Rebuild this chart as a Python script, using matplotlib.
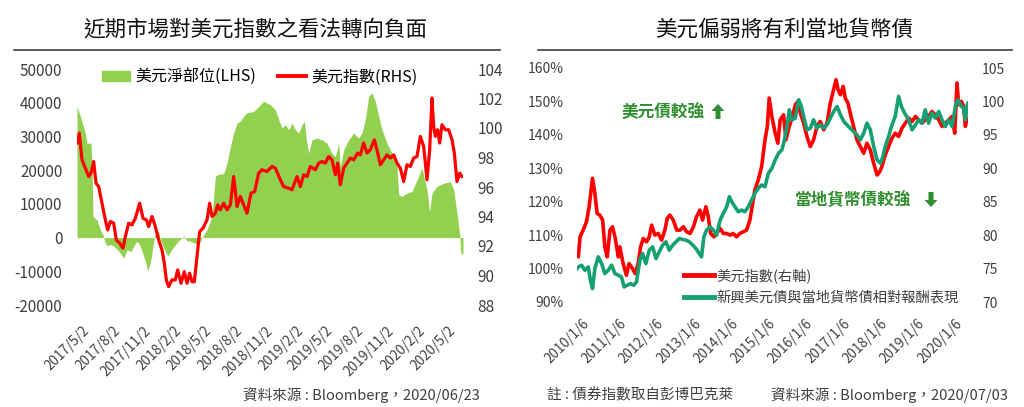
import matplotlib
matplotlib.use('Agg')
import matplotlib.pyplot as plt
from matplotlib.lines import Line2D
from matplotlib.patches import Patch, FancyArrow
from matplotlib.transforms import ScaledTranslation
from matplotlib.ticker import FuncFormatter, MultipleLocator
import pandas as pd

plt.rcParams['font.family'] = ['Noto Sans CJK TC', 'DejaVu Sans']
plt.rcParams['axes.unicode_minus'] = False

# ---------------- Left chart data ----------------
left_title = "近期市場對美元指數之看法轉向負面"
left_source = "資料來源 : Bloomberg，2020/06/23"
pos_label = "美元淨部位(LHS)"
dxy_left_label = "美元指數(RHS)"

pos_dates = ["2017-04-22","2017-05-02","2017-05-17","2017-05-22","2017-06-03","2017-06-06","2017-06-09","2017-06-21",
             "2017-07-01","2017-07-09","2017-07-14","2017-07-21","2017-07-31","2017-08-10","2017-08-25","2017-09-09",
             "2017-09-19","2017-10-01","2017-10-09","2017-10-17","2017-10-24","2017-11-03","2017-11-13","2017-11-20",
             "2017-11-28","2017-12-08","2017-12-13","2017-12-23","2017-12-28","2018-01-07","2018-01-19","2018-02-01",
             "2018-02-16","2018-03-03","2018-03-08","2018-03-18","2018-03-28","2018-04-07","2018-04-17","2018-04-25",
             "2018-05-02","2018-05-17","2018-06-01","2018-06-11","2018-06-16","2018-07-06","2018-07-16","2018-07-26",
             "2018-08-05","2018-08-15","2018-08-25","2018-09-04","2018-09-14","2018-10-04","2018-10-24","2018-11-03",
             "2018-11-23","2018-12-08","2018-12-18","2018-12-28","2019-01-07","2019-01-17","2019-01-27","2019-02-06",
             "2019-02-16","2019-02-26","2019-03-05","2019-03-11","2019-03-18","2019-03-28","2019-04-12","2019-04-27",
             "2019-05-12","2019-05-27","2019-06-06","2019-06-16","2019-06-21","2019-07-01","2019-07-16","2019-07-31",
             "2019-08-15","2019-08-25","2019-09-04","2019-09-14","2019-09-24","2019-10-04","2019-10-14","2019-10-24",
             "2019-11-08","2019-11-23","2019-12-08","2019-12-13","2019-12-23","2020-01-07","2020-01-22","2020-02-06",
             "2020-02-21","2020-03-07","2020-03-15","2020-03-22","2020-04-06","2020-04-26","2020-05-16","2020-05-26",
             "2020-06-05","2020-06-13","2020-06-17","2020-06-23"]
pos_values = [38900,36000,31000,28000,28000,21100,6200,5250,2300,800,-1200,-2500,-2000,-2500,-4000,-6100,
              -3600,-4100,-2600,-1200,-1500,-4000,-7000,-10000,-7600,-1200,1800,1800,-500,-3000,-5600,-3500,
              -1500,0,500,-1000,-1000,-1500,-2000,-1500,0,2300,6200,18100,18600,19000,22100,27000,
              31000,34000,34500,36000,37000,37400,39400,40400,39400,37900,35000,32500,33500,32000,34000,32000,
              31000,33500,34500,29000,25000,29000,29500,29000,28000,25000,24000,28000,21000,26000,29000,31000,
              29500,31000,35000,41900,42900,40400,36000,32000,28000,25000,21000,12700,12200,13200,13700,17100,
              20600,14200,7700,13200,15200,16100,16600,14200,7200,800,-5100,-4600]

dxy17_dates = ["2017-04-22","2017-04-29","2017-05-07","2017-05-17","2017-05-27","2017-06-03","2017-06-11","2017-06-18",
               "2017-06-26","2017-07-06","2017-07-16","2017-07-23","2017-07-31","2017-08-10","2017-08-18","2017-08-28",
               "2017-09-07","2017-09-14","2017-09-24","2017-10-04","2017-10-14","2017-10-27","2017-11-06","2017-11-16",
               "2017-11-23","2017-12-03","2017-12-13","2017-12-23","2018-01-02","2018-01-09","2018-01-15","2018-01-22",
               "2018-02-01","2018-02-11","2018-02-18","2018-02-28","2018-03-10","2018-03-18","2018-03-26","2018-04-02",
               "2018-04-09","2018-04-17","2018-04-25","2018-05-05","2018-05-17","2018-05-25","2018-06-01","2018-06-11",
               "2018-06-18","2018-06-26","2018-07-06","2018-07-16","2018-07-26","2018-08-05","2018-08-15","2018-08-25",
               "2018-09-04","2018-09-14","2018-09-26","2018-10-07","2018-10-19","2018-10-29","2018-11-13","2018-11-28",
               "2018-12-08","2018-12-23","2019-01-02","2019-01-17","2019-01-27","2019-02-11","2019-02-21","2019-03-03",
               "2019-03-13","2019-03-23","2019-04-07","2019-04-17","2019-04-27","2019-05-07","2019-05-17","2019-05-27",
               "2019-06-06","2019-06-13","2019-06-21","2019-07-01","2019-07-11","2019-07-21","2019-07-31","2019-08-12",
               "2019-08-20","2019-08-30","2019-09-09","2019-09-19","2019-10-01","2019-10-09","2019-10-19","2019-10-29",
               "2019-11-08","2019-11-18","2019-11-28","2019-12-08","2019-12-18","2019-12-28","2020-01-07","2020-01-17",
               "2020-01-27","2020-02-06","2020-02-16","2020-02-26","2020-03-07","2020-03-15","2020-03-22","2020-03-27",
               "2020-04-01","2020-04-08","2020-04-14","2020-04-21","2020-05-01","2020-05-11","2020-05-21","2020-05-28",
               "2020-06-05","2020-06-13","2020-06-20"]
dxy17_values = [98.98,99.65,97.84,97.28,96.71,96.94,97.73,96.26,96.03,94.90,93.77,93.09,93.66,93.55,92.41,92.19,
                91.85,92.64,93.55,93.43,93.88,94.90,93.88,93.77,93.32,94.00,93.32,92.41,91.73,90.83,89.70,89.25,
                89.70,89.70,90.38,89.47,90.26,89.47,90.15,89.58,89.58,91.28,92.98,93.21,93.77,94.90,94.00,94.22,
                94.79,94.45,94.90,94.45,94.79,96.71,94.68,95.36,94.79,94.22,95.58,95.69,96.94,97.17,97.05,97.39,
                97.28,96.49,96.03,95.92,95.81,96.71,96.03,96.83,96.71,97.39,97.17,97.62,97.73,97.62,98.07,97.84,
                96.83,97.62,96.15,97.28,97.62,97.96,97.84,98.30,98.18,98.98,98.30,98.52,99.20,98.52,97.51,97.84,
                98.18,97.96,98.18,97.62,97.28,96.37,97.51,97.39,97.96,98.07,99.43,98.75,96.49,98.52,102.03,100.11,
                99.43,99.88,98.98,100.22,99.88,99.88,99.20,98.30,96.37,96.94,96.71]

left_tick_labels = ["2017/5/2","2017/8/2","2017/11/2","2018/2/2","2018/5/2","2018/8/2","2018/11/2",
                    "2019/2/2","2019/5/2","2019/8/2","2019/11/2","2020/2/2","2020/5/2"]

# ---------------- Right chart data ----------------
right_title = "美元偏弱將有利當地貨幣債"
right_note = "註 : 債券指數取自彭博巴克萊"
right_source = "資料來源 : Bloomberg，2020/07/03"
dxy_right_label = "美元指數(右軸)"
bond_label = "新興美元債與當地貨幣債相對報酬表現"
note_up = "美元債較強"
note_down = "當地貨幣債較強"

dxy10_dates = ["2010-01-06","2010-01-19","2010-02-05","2010-03-07","2010-04-09","2010-05-05","2010-06-07","2010-06-30",
               "2010-07-22","2010-08-18","2010-09-14","2010-10-06","2010-10-29","2010-11-25","2010-12-20","2011-01-13",
               "2011-02-15","2011-03-01","2011-04-03","2011-05-05","2011-05-31","2011-07-04","2011-07-30","2011-08-28",
               "2011-09-21","2011-10-17","2011-11-19","2011-12-15","2012-01-07","2012-02-09","2012-03-12","2012-04-14",
               "2012-05-16","2012-06-08","2012-07-04","2012-08-06","2012-09-09","2012-10-11","2012-11-13","2012-12-15",
               "2013-01-18","2013-02-20","2013-03-22","2013-04-24","2013-05-20","2013-06-22","2013-07-15","2013-08-07",
               "2013-09-09","2013-10-05","2013-11-08","2013-12-10","2014-01-12","2014-02-14","2014-03-16","2014-04-18",
               "2014-05-21","2014-06-23","2014-07-25","2014-08-27","2014-09-23","2014-10-15","2014-11-17","2014-12-20",
               "2015-01-22","2015-02-14","2015-03-04","2015-03-30","2015-05-02","2015-05-28","2015-06-20","2015-07-23",
               "2015-08-15","2015-09-17","2015-10-13","2015-11-15","2015-12-11","2016-01-03","2016-02-05","2016-03-08",
               "2016-04-10","2016-05-12","2016-06-14","2016-07-16","2016-08-19","2016-09-21","2016-10-23","2016-11-16",
               "2016-12-18","2017-01-07","2017-01-30","2017-02-26","2017-03-18","2017-04-14","2017-05-06","2017-06-08",
               "2017-07-11","2017-08-13","2017-09-15","2017-10-17","2017-11-19","2017-12-22","2018-01-24","2018-02-20",
               "2018-03-12","2018-04-14","2018-05-17","2018-06-19","2018-07-21","2018-08-23","2018-09-25","2018-10-28",
               "2018-11-30","2019-01-02","2019-02-04","2019-03-07","2019-04-09","2019-05-11","2019-06-13","2019-07-15",
               "2019-08-17","2019-09-20","2019-10-22","2019-11-24","2019-12-27","2020-01-29","2020-02-24","2020-03-17",
               "2020-04-03","2020-04-29","2020-05-21","2020-06-07","2020-06-26","2020-07-03"]
dxy10_values = [77.25,76.75,79.75,80.75,82.0,84.25,88.5,86.25,83.25,83.0,82.25,78.25,76.75,80.75,81.25,79.75,
                76.75,78.25,75.75,74.0,75.75,75.0,74.25,75.75,78.25,79.5,79.0,79.75,81.5,80.0,80.25,79.25,
                80.75,82.5,83.0,82.25,80.75,80.75,81.25,80.5,80.25,81.25,82.75,83.75,82.25,84.25,82.75,80.25,
                79.75,80.25,81.0,80.25,80.25,80.0,80.25,79.75,80.25,80.5,80.75,82.25,84.75,86.75,88.25,90.25,
                94.25,96.25,100.5,97.75,95.25,93.75,97.25,98.0,94.25,96.25,97.5,99.5,100.0,98.25,96.75,94.75,
                93.25,94.25,96.25,97.0,95.75,96.75,99.75,101.25,103.25,101.75,101.0,102.25,100.5,99.75,98.25,96.25,
                94.25,93.25,92.25,93.75,92.75,90.75,89.0,89.5,90.25,92.0,93.25,94.5,95.25,94.75,96.0,96.75,
                97.5,97.0,97.75,97.25,96.75,97.25,97.75,98.5,98.0,97.25,96.25,96.75,97.25,97.75,95.25,102.75,
                99.5,100.0,99.25,96.25,97.5,97.25]

bond_dates = ["2010-01-06","2010-01-19","2010-02-20","2010-03-24","2010-04-26","2010-05-18","2010-06-07","2010-06-30",
              "2010-08-02","2010-09-04","2010-10-06","2010-11-08","2010-12-11","2011-01-13","2011-02-15","2011-03-17",
              "2011-04-13","2011-05-12","2011-06-14","2011-07-16","2011-08-12","2011-09-14","2011-10-10","2011-11-12",
              "2011-12-15","2012-01-17","2012-02-19","2012-03-21","2012-04-24","2012-05-26","2012-06-28","2012-07-31",
              "2012-09-02","2012-10-04","2012-11-06","2012-12-09","2013-01-11","2013-02-13","2013-03-16","2013-04-18",
              "2013-05-10","2013-06-02","2013-06-28","2013-07-31","2013-09-03","2013-10-05","2013-11-08","2013-12-10",
              "2014-01-12","2014-02-07","2014-03-02","2014-04-02","2014-05-05","2014-06-06","2014-07-09","2014-08-11",
              "2014-09-13","2014-10-15","2014-11-17","2014-12-20","2015-01-22","2015-02-24","2015-03-30","2015-05-02",
              "2015-06-04","2015-07-06","2015-08-01","2015-08-25","2015-09-17","2015-10-13","2015-11-15","2015-12-18",
              "2016-01-13","2016-02-05","2016-03-08","2016-04-10","2016-05-12","2016-06-14","2016-07-16","2016-08-19",
              "2016-09-21","2016-10-23","2016-11-25","2016-12-28","2017-01-30","2017-03-04","2017-04-04","2017-05-06",
              "2017-06-08","2017-07-11","2017-08-13","2017-09-15","2017-10-17","2017-11-19","2017-12-22","2018-01-24",
              "2018-02-26","2018-03-18","2018-04-14","2018-05-17","2018-06-19","2018-07-21","2018-08-23","2018-09-19",
              "2018-10-21","2018-11-30","2019-01-02","2019-02-04","2019-03-07","2019-04-09","2019-05-11","2019-06-13",
              "2019-07-15","2019-08-17","2019-09-20","2019-10-22","2019-11-24","2019-12-27","2020-01-29","2020-03-01",
              "2020-03-27","2020-04-29","2020-05-21","2020-06-07","2020-06-26","2020-07-03"]
bond_values = [100.0,100.5,101.0,99.5,100.5,96.5,94.0,100.0,103.5,101.5,98.5,99.5,101.0,98.5,98.0,97.5,
               94.5,95.0,95.5,95.0,96.0,102.5,104.5,101.5,105.5,106.5,103.0,105.0,107.0,108.0,105.5,107.0,
               108.0,109.0,108.7,108.5,108.0,107.0,106.0,104.5,103.5,109.5,111.5,112.5,111.5,110.0,114.5,116.5,
               118.5,121.5,120.0,118.5,117.0,117.5,117.0,118.5,120.5,122.5,124.0,125.0,124.5,128.5,130.0,132.5,
               134.5,135.5,138.5,142.5,147.5,144.5,145.0,150.5,148.5,145.5,141.5,142.0,144.5,142.0,143.0,142.0,
               143.0,145.0,147.0,148.5,146.0,144.0,143.0,142.0,141.0,140.0,138.5,140.5,143.5,141.5,136.5,132.5,
               131.5,133.0,136.5,139.5,143.0,145.5,151.5,148.5,146.5,144.5,141.5,143.0,144.5,143.5,147.5,143.5,
               146.5,145.0,147.0,144.5,142.5,144.5,142.5,148.5,150.5,148.5,148.0,144.5,149.0,149.5]

right_tick_labels = ["2010/1/6","2011/1/6","2012/1/6","2013/1/6","2014/1/6","2015/1/6","2016/1/6",
                     "2017/1/6","2018/1/6","2019/1/6","2020/1/6"]

# ---------------- Styling ----------------
GREEN_AREA = '#92D050'
RED = '#FF0000'
TEAL = '#14A073'
NOTE_GREEN = '#2F8F2F'
TXT = '#404040'

W, H = 1024, 407
fig = plt.figure(figsize=(W / 100, H / 100), dpi=100)


def box(x0, y0, x1, y1):
    return [x0 / W, 1 - y1 / H, (x1 - x0) / W, (y1 - y0) / H]


def clean(ax):
    for s in ax.spines.values():
        s.set_visible(False)
    ax.tick_params(axis='both', length=0)


def shift_labels(ax, dx_px):
    off = ScaledTranslation(dx_px / 100, 0, fig.dpi_scale_trans)
    for lab in ax.get_xticklabels():
        lab.set_transform(lab.get_transform() + off)


def block_arrow(x_px, y_from_px, y_to_px):
    # pixel positions measured from the top-left corner of the figure
    x = x_px / 100
    y0 = (H - y_from_px) / 100
    dy = (y_from_px - y_to_px) / 100
    fig.patches.append(FancyArrow(x, y0, 0, dy, width=0.05, head_width=0.13,
                                  head_length=0.07, length_includes_head=True,
                                  color=NOTE_GREEN, lw=0, transform=fig.dpi_scale_trans,
                                  figure=fig))


# ---- Left chart ----
ax1 = fig.add_axes(box(77, 69, 463, 305))
pd_pos = pd.to_datetime(pos_dates)
ax1.fill_between(pd_pos, pos_values, 0, color=GREEN_AREA, lw=0)
ax1.set_ylim(-20000, 50000)
ax1.yaxis.set_major_locator(MultipleLocator(10000))
ax1.set_xlim(pd_pos[0], pd_pos[-1])
ax1.tick_params(axis='y', labelsize=11, labelcolor=TXT, pad=10.5)
lt = pd.to_datetime(left_tick_labels, format='%Y/%m/%d')
ax1.set_xticks(lt)
ax1.set_xticklabels(left_tick_labels, rotation=45, ha='right', rotation_mode='anchor')
ax1.tick_params(axis='x', labelsize=9.8, labelcolor=TXT, pad=13.5)
clean(ax1)

ax2 = ax1.twinx()
ax2.plot(pd.to_datetime(dxy17_dates), dxy17_values, color=RED, lw=2.3)
ax2.set_ylim(88, 104)
ax2.yaxis.set_major_locator(MultipleLocator(2))
ax2.tick_params(axis='y', labelsize=11, labelcolor=TXT, pad=10.5)
clean(ax2)
shift_labels(ax1, 2)

ax2.legend([Patch(color=GREEN_AREA), Line2D([], [], color=RED, lw=2.8)],
           [pos_label, dxy_left_label], loc='center', bbox_to_anchor=(0.474, 0.966),
           ncol=2, frameon=False, fontsize=11.5, handlelength=1.75, handleheight=0.65,
           columnspacing=1.4, handletextpad=0.3, borderpad=0, borderaxespad=0)

# ---- Right chart ----
ax3 = fig.add_axes(box(577, 68, 968, 302))
ax4 = ax3.twinx()
ax4.plot(pd.to_datetime(dxy10_dates), dxy10_values, color=RED, lw=2.6)
ax4.set_ylim(70, 105)
ax4.yaxis.set_major_locator(MultipleLocator(5))
ax4.tick_params(axis='y', labelsize=10, labelcolor=TXT, pad=10)
ax3.set_zorder(ax4.get_zorder() + 1)
ax3.patch.set_visible(False)
ax3.plot(pd.to_datetime(bond_dates), bond_values, color=TEAL, lw=2.6)
ax3.set_ylim(90, 160)
ax3.yaxis.set_major_locator(MultipleLocator(10))
ax3.yaxis.set_major_formatter(FuncFormatter(lambda v, p: f"{v:.0f}%"))
ax3.tick_params(axis='y', labelsize=10, labelcolor=TXT, pad=9.5)
rt = pd.to_datetime(right_tick_labels, format='%Y/%m/%d')
ax3.set_xticks(rt)
ax3.set_xticklabels(right_tick_labels, rotation=45, ha='right', rotation_mode='anchor')
ax3.tick_params(axis='x', labelsize=9.8, labelcolor=TXT, pad=10.5)
ax3.set_xlim(pd.Timestamp(bond_dates[0]), pd.Timestamp(bond_dates[-1]))
clean(ax3)
clean(ax4)
shift_labels(ax3, 5)

ax3.legend([Line2D([], [], color=RED, lw=3.5), Line2D([], [], color=TEAL, lw=3.5)],
           [dxy_right_label, bond_label], loc='center left', bbox_to_anchor=(0.274, 0.066),
           frameon=False, fontsize=10.3, handlelength=2.1, handletextpad=0.15,
           labelspacing=0.55, borderpad=0, borderaxespad=0, labelcolor=TXT)

# annotations
fig.text(622 / W, 1 - 112 / H, note_up, ha='left', va='center', fontsize=12,
         color=NOTE_GREEN, fontweight='bold')
block_arrow(718, 119, 104)
fig.text(795 / W, 1 - 200 / H, note_down, ha='left', va='center', fontsize=12,
         color=NOTE_GREEN, fontweight='bold')
block_arrow(931, 192, 207)

# titles and rules
fig.text(255 / W, 1 - 30 / H, left_title, ha='center', va='center', fontsize=15.5,
         color='#111111', fontweight='medium')
fig.text(784 / W, 1 - 30 / H, right_title, ha='center', va='center', fontsize=15.5,
         color='#111111', fontweight='medium')
fig.add_artist(Line2D([14 / W, 500 / W], [1 - 50 / H, 1 - 50 / H], color='#404040', lw=1.2))
fig.add_artist(Line2D([538 / W, 1012 / W], [1 - 50 / H, 1 - 50 / H], color='#404040', lw=1.2))

# sources
fig.text(480 / W, 1 - 395 / H, left_source, ha='right', va='center', fontsize=10.5, color=TXT)
fig.text(547 / W, 1 - 395 / H, right_note, ha='left', va='center', fontsize=10.5, color=TXT)
fig.text(1008 / W, 1 - 395 / H, right_source, ha='right', va='center', fontsize=10.5, color=TXT)

fig.savefig('out.png', dpi=100)
